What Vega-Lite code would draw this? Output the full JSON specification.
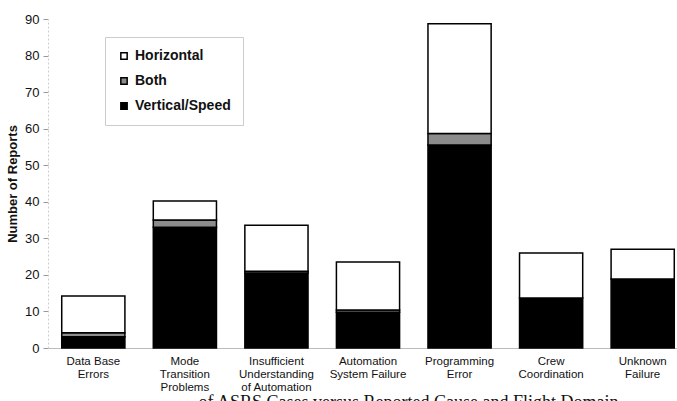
{
  "$schema": "https://vega.github.io/schema/vega-lite/v6.json",
  "width": 640,
  "height": 329,
  "autosize": {"type": "none"},
  "padding": {"left": 48, "top": 19, "right": 0, "bottom": 53},
  "background": "white",
  "config": {"view": {"stroke": null}, "font": "Liberation Sans"},
  "title": {
    "text": "of ASRS Cases versus Reported Cause and Flight Domain",
    "orient": "bottom",
    "anchor": "start",
    "font": "Liberation Serif",
    "fontSize": 18,
    "fontWeight": "normal",
    "color": "#111",
    "offset": 1,
    "dx": 192
  },
  "data": {
    "values": [
      {"cause": "Data Base Errors", "type": "Vertical/Speed", "n": 3.1},
      {"cause": "Data Base Errors", "type": "Both", "n": 1.1},
      {"cause": "Data Base Errors", "type": "Horizontal", "n": 10},
      {"cause": "Mode Transition Problems", "type": "Vertical/Speed", "n": 33},
      {"cause": "Mode Transition Problems", "type": "Both", "n": 2},
      {"cause": "Mode Transition Problems", "type": "Horizontal", "n": 5.2},
      {"cause": "Insufficient Understanding of Automation", "type": "Vertical/Speed", "n": 20.5},
      {"cause": "Insufficient Understanding of Automation", "type": "Both", "n": 0.5},
      {"cause": "Insufficient Understanding of Automation", "type": "Horizontal", "n": 12.6},
      {"cause": "Automation System Failure", "type": "Vertical/Speed", "n": 9.8},
      {"cause": "Automation System Failure", "type": "Both", "n": 0.6},
      {"cause": "Automation System Failure", "type": "Horizontal", "n": 13.1},
      {"cause": "Programming Error", "type": "Vertical/Speed", "n": 55.5},
      {"cause": "Programming Error", "type": "Both", "n": 3.2},
      {"cause": "Programming Error", "type": "Horizontal", "n": 30},
      {"cause": "Crew Coordination", "type": "Vertical/Speed", "n": 13.7},
      {"cause": "Crew Coordination", "type": "Horizontal", "n": 12.3},
      {"cause": "Unknown Failure", "type": "Vertical/Speed", "n": 18.9},
      {"cause": "Unknown Failure", "type": "Horizontal", "n": 8.1}
    ]
  },
  "transform": [
    {"calculate": "indexof(['Vertical/Speed', 'Both', 'Horizontal'], datum.type)", "as": "stackorder"}
  ],
  "mark": {"type": "bar", "stroke": "black", "strokeWidth": 1.5},
  "encoding": {
    "x": {
      "field": "cause",
      "type": "nominal",
      "sort": null,
      "scale": {"paddingInner": 0.31, "paddingOuter": 0.15},
      "axis": {
        "title": null,
        "labelAngle": 0,
        "ticks": false,
        "domainColor": "#bbb",
        "domainWidth": 1,
        "labelFontSize": 11.5,
        "labelColor": "#111",
        "labelPadding": 7,
        "labelLineHeight": 13,
        "labelExpr": "datum.label == 'Data Base Errors' ? ['Data Base','Errors'] : datum.label == 'Mode Transition Problems' ? ['Mode','Transition','Problems'] : datum.label == 'Insufficient Understanding of Automation' ? ['Insufficient','Understanding','of Automation'] : datum.label == 'Automation System Failure' ? ['Automation','System Failure'] : datum.label == 'Programming Error' ? ['Programming','Error'] : datum.label == 'Crew Coordination' ? ['Crew','Coordination'] : ['Unknown','Failure']"
      }
    },
    "y": {
      "field": "n",
      "type": "quantitative",
      "stack": "zero",
      "scale": {"domain": [0, 90], "nice": false},
      "axis": {
        "title": "Number  of  Reports",
        "titleFontSize": 13,
        "titleFontWeight": "bold",
        "titleColor": "#111",
        "titlePadding": 5,
        "values": [0, 10, 20, 30, 40, 50, 60, 70, 80, 90],
        "labelFontSize": 13,
        "labelColor": "#111",
        "labelPadding": 4,
        "tickSize": 5,
        "tickColor": "#999",
        "domainColor": "#ccc",
        "domainDash": [2, 2],
        "grid": false
      }
    },
    "order": {"field": "stackorder", "type": "quantitative"},
    "color": {
      "field": "type",
      "type": "nominal",
      "scale": {
        "domain": ["Horizontal", "Both", "Vertical/Speed"],
        "range": ["white", "#8c8c8c", "black"]
      },
      "legend": {
        "title": null,
        "orient": "none",
        "legendX": 57,
        "legendY": 18,
        "padding": 12,
        "rowPadding": 11,
        "symbolType": "square",
        "symbolSize": 40,
        "symbolStrokeColor": "black",
        "symbolStrokeWidth": 1.5,
        "labelFontSize": 14,
        "labelFontWeight": "bold",
        "labelColor": "#111",
        "labelOffset": 4,
        "strokeColor": "#ccc"
      }
    }
  }
}
